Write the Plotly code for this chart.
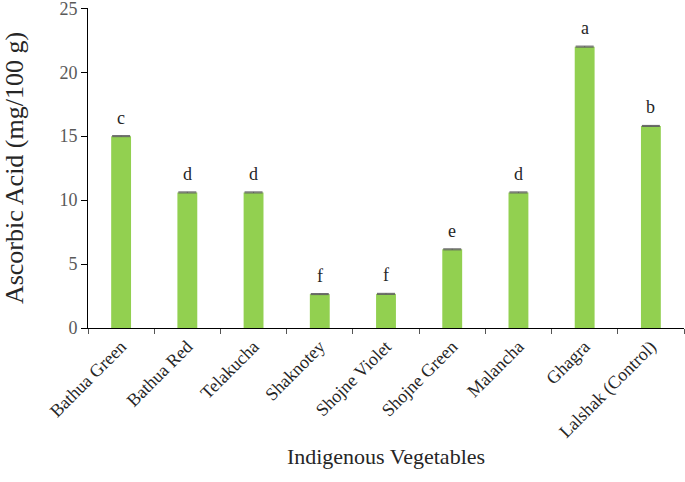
import plotly.graph_objects as go

categories = ["Bathua Green", "Bathua Red", "Telakucha", "Shaknotey", "Shojne Violet",
              "Shojne Green", "Malancha", "Ghagra", "Lalshak (Control)"]
values = [15.0, 10.6, 10.6, 2.65, 2.67, 6.15, 10.6, 22.0, 15.8]
errors = [0.04, 0.04, 0.04, 0.04, 0.04, 0.04, 0.04, 0.04, 0.04]
letters = ["c", "d", "d", "f", "f", "e", "d", "a", "b"]
y_ticks = [0, 5, 10, 15, 20, 25]

font_family = "Liberation Serif, Times New Roman, serif"

fig = go.Figure()
fig.add_trace(go.Bar(
    x=categories, y=values, width=0.3,
    marker=dict(color="#92D050", line=dict(width=0)),
    error_y=dict(type="data", array=errors, visible=True, color="#606060",
                 thickness=1, width=9),
))

for c, v, e, t in zip(categories, values, errors, letters):
    fig.add_annotation(x=c, y=v + e, text=t, showarrow=False, yanchor="bottom",
                       yshift=6, font=dict(family=font_family, size=18, color="#262626"))

fig.update_layout(
    width=685, height=482,
    margin=dict(l=88, r=1, t=8, b=154),
    paper_bgcolor="white", plot_bgcolor="white",
    showlegend=False,
    font=dict(family=font_family),
)
fig.update_xaxes(
    showline=True, linecolor="black", linewidth=1,
    ticks="outside", tickson="boundaries", ticklen=5, tickcolor="#555555",
    tickangle=-45, tickfont=dict(family=font_family, size=18, color="#262626"),
    title=dict(text="Indigenous Vegetables", font=dict(family=font_family, size=22, color="#262626"), standoff=7),
    showgrid=False, automargin=False,
)
fig.update_yaxes(
    range=[0, 25.02], tickvals=y_ticks, ticklabeloverflow="allow",
    showline=True, linecolor="black", linewidth=1,
    ticks="outside", ticklen=6, tickcolor="black",
    tickfont=dict(family=font_family, size=18, color="#595959"),
    title=dict(text="Ascorbic Acid (mg/100 g)", font=dict(family=font_family, size=26, color="#262626"), standoff=37),
    showgrid=False, zeroline=False, automargin=False,
)

fig.write_html("out.html", config={"displayModeBar": False},
               post_script="document.body.style.margin='0px';")
